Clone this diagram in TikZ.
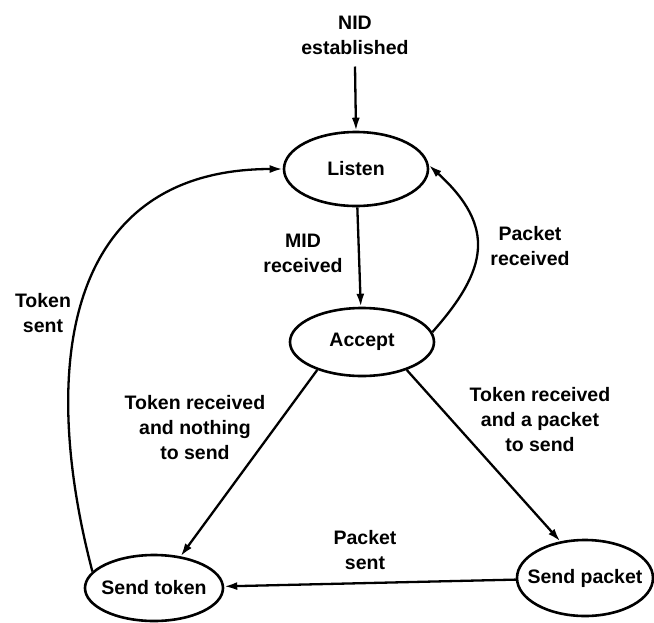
\documentclass[tikz,border=0pt]{standalone}
\usepackage{fontspec}
\setmainfont{Liberation Sans}
\usetikzlibrary{shapes.geometric,arrows.meta}
\begin{document}
\begin{tikzpicture}[x=1pt,y=-1pt,
  every node/.style={font=\fontsize{19.5}{25}\selectfont\bfseries},
  state/.style={draw, ellipse, line width=2.6pt, inner sep=0pt},
  lbl/.style={align=center, inner sep=0pt},
  arr/.style={line width=2.3pt, -{Latex[length=13pt,width=8pt]}},
]
\path[fill=white,use as bounding box] (0,0) rectangle (654,622);

% states
\node[state, minimum width=144, minimum height=74, label=center:Listen] (listen) at (356,169) {};
\node[state, minimum width=144, minimum height=68, label=center:Accept] (accept) at (362,342) {};
\node[state, minimum width=138, minimum height=66, label=center:{Send token}] (sendtoken) at (154,588) {};
\node[state, minimum width=136, minimum height=76, label=center:{Send packet}] (sendpacket) at (585,578) {};

% transition labels
\node[lbl] (nid) at (355,35) {NID\\established};
\node[lbl] (midrx) at (303,253) {MID\\received};
\node[lbl] (pktrx) at (530,246) {Packet\\received};
\node[lbl] (tksent) at (43,313) {Token\\sent};
\node[lbl] (trnothing) at (195,428) {Token received\\and nothing\\to send};
\node[lbl] (trpacket) at (540,420) {Token received\\and a packet\\to send};
\node[lbl] (pktsent) at (365,550) {Packet\\sent};

% transitions
\draw[arr] ([yshift=-12pt]nid.south) -- (listen.north);
\draw[arr] (listen) -- (accept);
\draw[arr] (accept.8) .. controls +(55,-62) and +(68,62) .. (listen.3);
\draw[arr] (sendtoken.165) .. controls +(-55,-210) and +(-215,0) .. (listen.west);
\draw[arr] (accept.212) -- (sendtoken.50);
\draw[arr] (accept.-32) -- (sendpacket.124);
\draw[arr] (sendpacket) -- (sendtoken);
\end{tikzpicture}
\end{document}
